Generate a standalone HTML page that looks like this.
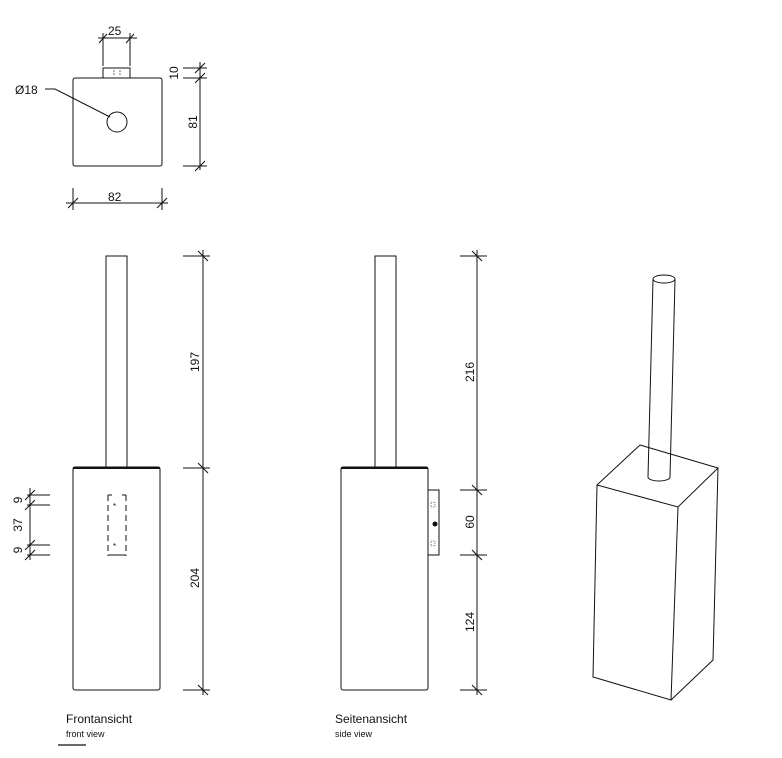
<!DOCTYPE html>
<html><head><style>body{margin:0;background:#fff}svg{display:block}text{font-family:"Liberation Sans",sans-serif;fill:#111}</style></head><body>
<svg width="782" height="758" viewBox="0 0 782 758" xmlns="http://www.w3.org/2000/svg" stroke="#111" fill="none" stroke-width="1">
<!-- top view -->
<rect x="73" y="78" width="89" height="88" rx="2"/>
<rect x="103" y="68" width="27" height="10"/>
<path d="M114 70v6M120 70v6" stroke-dasharray="2,1" stroke-width="0.6"/>
<circle cx="117" cy="122" r="10"/>
<path d="M45 89h10l55 28"/>
<text x="15" y="94" font-size="12" stroke="none">Ø18</text>
<path d="M98 38h39M103 33v33M130 33v33M99 43l8-9M126 43l8-9"/>
<text x="108" y="35" font-size="12" stroke="none">25</text>
<path d="M200 62v108M183 68h24M183 78h24M183 166h24M195 73l10-10M195 83l10-10M195 171l10-10"/>
<text transform="translate(178,73) rotate(-90)" font-size="12" stroke="none" text-anchor="middle">10</text>
<text transform="translate(197,122) rotate(-90)" font-size="12" stroke="none" text-anchor="middle">81</text>
<path d="M66 203h102M73 188v22M162 188v22M68 208l10-10M157 208l10-10"/>
<text x="108" y="201" font-size="12" stroke="none">82</text>
<!-- front view -->
<rect x="106" y="256" width="21" height="211"/>
<rect x="73" y="467" width="87" height="223" rx="2"/>
<path d="M73 468h87" stroke-width="2"/>
<path d="M108 495v61M126 495v61" stroke-dasharray="6,4"/>
<path d="M108 495h4M122 495h4M108 555h18"/>
<text x="113" y="509" font-size="8" stroke="none">*</text>
<text x="113" y="549" font-size="8" stroke="none">*</text>
<path d="M203 250v445M183 256h27M183 468h27M183 690h27M198 251l10 10M198 463l10 10M198 685l10 10"/>
<text transform="translate(199,362) rotate(-90)" font-size="12" stroke="none" text-anchor="middle">197</text>
<text transform="translate(199,578) rotate(-90)" font-size="12" stroke="none" text-anchor="middle">204</text>
<path d="M30 488v72M27 495h23M27 505h23M27 545h23M27 555h23M25 500l10-10M25 510l10-10M25 550l10-10M25 560l10-10"/>
<text transform="translate(22,500) rotate(-90)" font-size="12" stroke="none" text-anchor="middle">9</text>
<text transform="translate(22,525) rotate(-90)" font-size="12" stroke="none" text-anchor="middle">37</text>
<text transform="translate(22,550) rotate(-90)" font-size="12" stroke="none" text-anchor="middle">9</text>
<!-- side view -->
<rect x="375" y="256" width="21" height="211"/>
<rect x="341" y="467" width="87" height="223" rx="2"/>
<path d="M341 468h87" stroke-width="2"/>
<rect x="428" y="490" width="11" height="65"/>
<rect x="431" y="502" width="4" height="5" stroke-dasharray="1,1" stroke-width="0.6"/>
<rect x="431" y="541" width="4" height="5" stroke-dasharray="1,1" stroke-width="0.6"/>
<circle cx="435" cy="524" r="2" fill="#111"/>
<path d="M477 250v445M460 256h27M460 490h27M460 555h27M460 690h27M472 251l10 10M472 485l10 10M472 550l10 10M472 685l10 10"/>
<text transform="translate(474,372) rotate(-90)" font-size="12" stroke="none" text-anchor="middle">216</text>
<text transform="translate(474,522) rotate(-90)" font-size="12" stroke="none" text-anchor="middle">60</text>
<text transform="translate(474,622) rotate(-90)" font-size="12" stroke="none" text-anchor="middle">124</text>
<!-- 3D -->
<path d="M640 445L718 468L678 507L597 485Z"/>
<path d="M597 485L593 677L671 700L678 507M671 700L713 660L718 468"/>
<path d="M653 280L648 477M675 280L670 477"/>
<path d="M648 477a11 4 0 0 0 22 0" fill="#fff"/>
<ellipse cx="664" cy="279" rx="11" ry="4"/>
<!-- labels -->
<text x="66" y="723" font-size="12" stroke="none">Frontansicht</text>
<text x="66" y="737" font-size="9" stroke="none">front view</text>
<path d="M58 745h28" stroke-width="1.3"/>
<text x="335" y="723" font-size="12" stroke="none">Seitenansicht</text>
<text x="335" y="737" font-size="9" stroke="none">side view</text>
</svg>
</body></html>
